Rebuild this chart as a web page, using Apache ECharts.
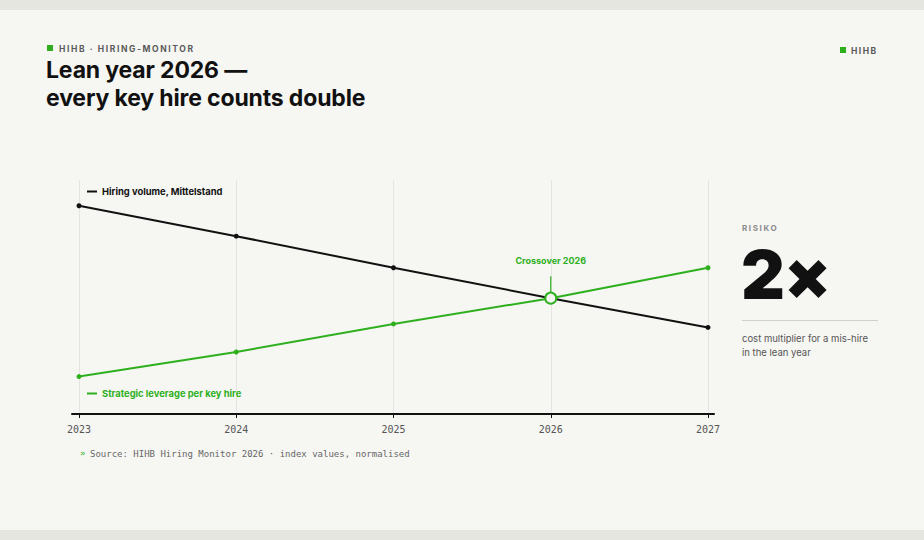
<!DOCTYPE html>
<html>
<head>
<meta charset="utf-8">
<script src="https://cdn.jsdelivr.net/npm/echarts@6/dist/echarts.min.js"></script>
<style>
html,body{margin:0;padding:0;background:#e6e6e1;}
#chart{width:924px;height:540px;}
</style>
</head>
<body>
<div id="chart"></div>
<script>
// ---- data ----
const years = ['2023', '2024', '2025', '2026', '2027'];
const hiringVolume = [89, 76, 62.5, 49.5, 37];
const strategicLeverage = [16, 26.5, 38.5, 49.5, 62.5];
const crossoverYear = '2026';
const crossoverValue = 49.5;
const seriesNames = ['Hiring volume, Mittelstand', 'Strategic leverage per key hire'];

const GREEN = '#2eb01e';
const INK = '#111111';
const BG = '#f6f6f3';
const SANS = 'Inter, "Noto Sans", sans-serif';
const MONO = '"DejaVu Sans Mono", "Liberation Mono", monospace';

const chart = echarts.init(document.getElementById('chart'), null, {renderer: 'svg'});

chart.setOption({
  backgroundColor: '#e6e6e1',
  animation: false,
  graphic: [
    {type: 'rect', left: 0, top: 10, shape: {width: 924, height: 520}, style: {fill: BG}, z: -10},
    // header
    {type: 'rect', left: 47, top: 45, shape: {width: 6, height: 6}, style: {fill: GREEN}},
    {type: 'text', left: 59, top: 44, style: {text: 'HIHB · HIRING-MONITOR', font: '700 8.5px ' + SANS, fill: '#5a5a5a'}},
    {type: 'text', left: 46, top: 58.5, style: {text: 'Lean year 2026 —', font: '700 23px ' + SANS, fill: INK, lineHeight: 23}},
    {type: 'text', left: 46, top: 86.5, style: {text: 'every key hire counts double', font: '700 23px ' + SANS, fill: INK, lineHeight: 23}},
    {type: 'rect', left: 840, top: 47, shape: {width: 6, height: 6}, style: {fill: GREEN}},
    {type: 'text', left: 851, top: 46, style: {text: 'HIHB', font: '700 8.5px ' + SANS, fill: '#5a5a5a'}},
    // right panel
    {type: 'text', left: 742, top: 224, style: {text: 'RISIKO', font: '700 8px ' + SANS, fill: '#8a8a8a'}},
    {type: 'text', left: 741, top: 240, style: {text: '2×', font: '900 68px ' + SANS, fill: INK}},
    {type: 'rect', left: 742, top: 320, shape: {width: 136, height: 1}, style: {fill: '#d0d0cc'}},
    {type: 'text', left: 742, top: 331, style: {text: 'cost multiplier for a mis-hire\nin the lean year', font: '400 9.5px ' + SANS, fill: '#555', lineHeight: 14}},
    // source
    {type: 'text', left: 80, top: 448, style: {text: '»', font: '400 9px ' + MONO, fill: GREEN}},
    {type: 'text', left: 90, top: 449, style: {text: 'Source: HIHB Hiring Monitor 2026 · index values, normalised', font: '400 9px ' + MONO, fill: '#666'}}
  ],
  legend: [
    {
      data: [seriesNames[0]], left: 87, top: 187, padding: 0, icon: 'rect', itemWidth: 10, itemHeight: 2, itemGap: 6,
      textStyle: {color: INK, fontFamily: SANS, fontWeight: 700, fontSize: 9.4}, selectedMode: false
    },
    {
      data: [seriesNames[1]], left: 87, top: 389, padding: 0, icon: 'rect', itemWidth: 10, itemHeight: 2, itemGap: 6,
      textStyle: {color: GREEN, fontFamily: SANS, fontWeight: 700, fontSize: 9.4}, selectedMode: false
    }
  ],
  grid: [
    {left: 79, right: 216, top: 180, bottom: 126},
    {left: 72, right: 210, top: 180, bottom: 126}
  ],
  xAxis: [
    {
      type: 'category', data: years, boundaryGap: false, gridIndex: 0,
      axisLine: {show: false},
      axisTick: {show: true, length: 4, lineStyle: {color: INK, width: 1}},
      axisLabel: {color: '#555', fontFamily: MONO, fontSize: 10, margin: 10},
      splitLine: {show: true, lineStyle: {color: '#e4e4e0', width: 1}}
    },
    {
      type: 'value', gridIndex: 1, min: 0, max: 1,
      axisLine: {show: true, lineStyle: {color: INK, width: 2}},
      axisTick: {show: false}, axisLabel: {show: false}, splitLine: {show: false}
    }
  ],
  yAxis: [
    {type: 'value', gridIndex: 0, min: 0, max: 100, show: false, splitLine: {show: false}},
    {type: 'value', gridIndex: 1, min: 0, max: 1, show: false, splitLine: {show: false}}
  ],
  series: [
    {
      name: seriesNames[0], type: 'line', data: hiringVolume, xAxisIndex: 0, yAxisIndex: 0,
      color: INK, lineStyle: {width: 2, color: INK}, symbol: 'circle', symbolSize: 5,
      itemStyle: {color: INK}, z: 2
    },
    {
      name: seriesNames[1], type: 'line', data: strategicLeverage, xAxisIndex: 0, yAxisIndex: 0,
      color: GREEN, lineStyle: {width: 2, color: GREEN}, symbol: 'circle', symbolSize: 5,
      itemStyle: {color: GREEN}, z: 3,
      markPoint: {
        silent: true,
        data: [
          {
            coord: [crossoverYear, crossoverValue], symbol: 'rect', symbolSize: [1.2, 16], symbolOffset: [0, -14],
            itemStyle: {color: GREEN},
            label: {show: true, position: 'top', distance: 11, formatter: 'Crossover 2026', color: GREEN, fontFamily: SANS, fontWeight: 700, fontSize: 9}
          },
          {
            coord: [crossoverYear, crossoverValue], symbol: 'circle', symbolSize: 11,
            itemStyle: {color: BG, borderColor: GREEN, borderWidth: 2},
            label: {show: false}
          }
        ]
      }
    }
  ]
});

// letter spacing on the text nodes (SVG renderer keeps them as real <text>)
const spacing = {
  'HIHB · HIRING-MONITOR': '1.6px',
  'HIHB': '1.5px',
  'RISIKO': '1.6px',
  'Lean year 2026 —': '-0.15px',
  'every key hire counts double': '-0.15px',
  '2×': '-1px'
};
document.querySelectorAll('#chart svg text').forEach(function (t) {
  const s = spacing[t.textContent];
  if (s) t.style.letterSpacing = s;
});
</script>
</body>
</html>
